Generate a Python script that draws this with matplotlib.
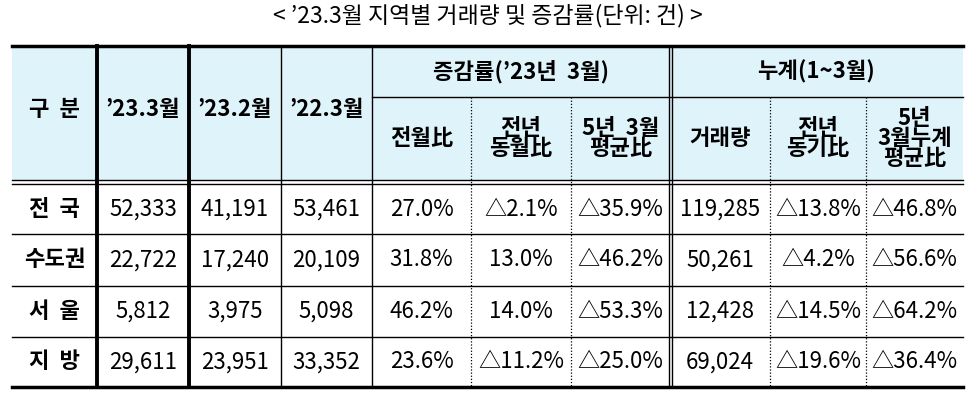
import matplotlib
matplotlib.use("Agg")
import matplotlib.pyplot as plt
from matplotlib.patches import Rectangle

plt.rcParams['font.family'] = ['Noto Sans CJK KR', 'DejaVu Sans']

title = "< ’23.3월 지역별 거래량 및 증감률(단위: 건) >"
regions = ["전  국", "수도권", "서  울", "지  방"]
cur = ["52,333", "22,722", "5,812", "29,611"]
prev_month = ["41,191", "17,240", "3,975", "23,951"]
prev_year = ["53,461", "20,109", "5,098", "33,352"]
mom = ["27.0%", "31.8%", "46.2%", "23.6%"]
yoy = ["△2.1%", "13.0%", "14.0%", "△11.2%"]
avg5 = ["△35.9%", "△46.2%", "△53.3%", "△25.0%"]
cum = ["119,285", "50,261", "12,428", "69,024"]
cum_yoy = ["△13.8%", "△4.2%", "△14.5%", "△19.6%"]
cum_avg5 = ["△46.8%", "△56.6%", "△64.2%", "△36.4%"]
group1 = "증감률(’23년  3월)"
group2 = "누계(1~3월)"
top_heads = ["구  분", "’23.3월", "’23.2월", "’22.3월"]
sub_heads = ["전월比", "전년\n동월比", "5년  3월\n평균比", "거래량", "전년\n동기比", "5년\n3월누계\n평균比"]

fig = plt.figure(figsize=(9.77, 4.05), dpi=100)
ax = fig.add_axes([0, 0, 1, 1])
ax.set_xlim(0, 977); ax.set_ylim(405, 0); ax.axis('off')

xs = [12, 97, 189, 281, 372, 471, 571, 670, 770, 866, 963]
ytop, ymid, yhead, yd = 46, 97, 180, 184
rows_y = [184, 234, 286, 337, 387]
hdr = '#dff3fb'
ax.add_patch(Rectangle((xs[0], ytop), xs[-1]-xs[0], yhead-ytop, color=hdr, lw=0))

ax.text(488, 16, title, ha='center', va='center', fontsize=16.5)

lw = 1.0
ax.plot([xs[0], xs[-1]], [ytop, ytop], color='black', lw=2.5)
ax.plot([xs[4], xs[-1]], [ymid, ymid], color='black', lw=lw)
ax.plot([xs[0], xs[-1]], [yhead, yhead], color='black', lw=lw)
ax.plot([xs[0], xs[-1]], [yd, yd], color='black', lw=lw)
for y in rows_y[1:-1]:
    ax.plot([xs[0], xs[-1]], [y, y], color='black', lw=lw)
ax.plot([xs[0], xs[-1]], [rows_y[-1], rows_y[-1]], color='black', lw=2.5)
for i in [3, 4]:
    ax.plot([xs[i], xs[i]], [ytop, rows_y[-1]], color='black', lw=lw)
for i in [1, 2]:
    ax.plot([xs[i], xs[i]], [ytop, rows_y[-1]], color='black', lw=2.8)
ax.plot([xs[7]-1.5, xs[7]-1.5], [ytop, rows_y[-1]], color='black', lw=lw)
ax.plot([xs[7]+1.5, xs[7]+1.5], [ytop, rows_y[-1]], color='black', lw=lw)
for i in [5, 6, 8, 9]:
    ax.plot([xs[i], xs[i]], [ymid, rows_y[-1]], color='black', lw=0.9, ls=(0, (1, 1.5)))

bold = dict(fontweight='bold', fontsize=16, ha='center', va='center')
hy = (ytop + yhead) / 2
for i, t in enumerate(top_heads):
    ax.text((xs[i]+xs[i+1])/2, hy - 4, t, **bold)
ax.text((xs[4]+xs[7])/2, (ytop+ymid)/2, group1, **bold)
ax.text((xs[7]+xs[-1])/2, (ytop+ymid)/2, group2, **bold)
for j, t in enumerate(sub_heads):
    ax.text((xs[4+j]+xs[5+j])/2, (ymid+yhead)/2, t, linespacing=0.85, **bold)

cols = [regions, cur, prev_month, prev_year, mom, yoy, avg5, cum, cum_yoy, cum_avg5]
for r in range(4):
    yc = (rows_y[r] + rows_y[r+1]) / 2
    for c, col in enumerate(cols):
        xc = (xs[c] + xs[c+1]) / 2
        if c == 0:
            ax.text(xc, yc, col[r], **bold)
        else:
            ax.text(xc, yc, col[r], ha='center', va='center', fontsize=16)

fig.savefig('out.png', dpi=100)
